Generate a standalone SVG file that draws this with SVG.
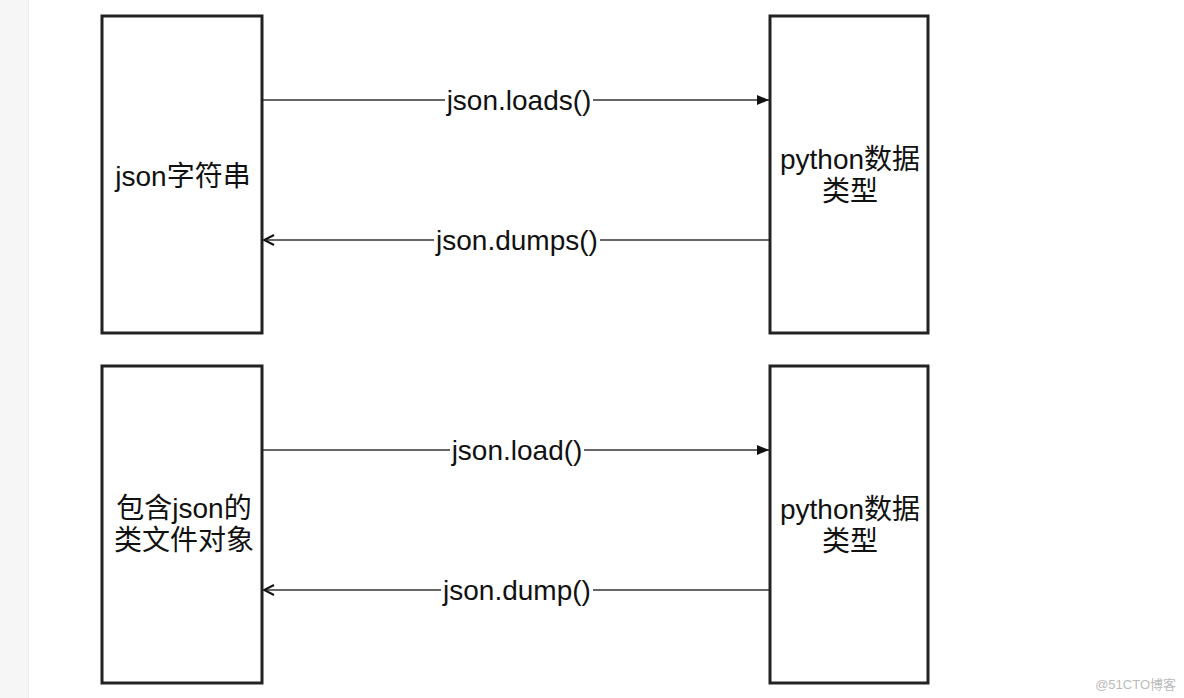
<svg xmlns="http://www.w3.org/2000/svg" width="1184" height="698" viewBox="0 0 1184 698">
<defs>
<style>
.box{fill:#fff;stroke:#222;stroke-width:3}
.edge{stroke:#666;stroke-width:2;fill:none}
.t{font-family:"Liberation Sans","Noto Sans CJK SC",sans-serif;font-size:28px;fill:#111;text-anchor:middle}
.lbl{font-family:"Liberation Sans","Noto Sans CJK SC",sans-serif;font-size:28px;fill:#111;text-anchor:middle}
.bg{fill:#fff}
</style>
<marker id="filled" viewBox="0 0 12 10" refX="12" refY="5" markerWidth="12" markerHeight="10" markerUnits="userSpaceOnUse" orient="auto">
<path d="M0,0 L12,5 L0,10 Z" fill="#111"/>
</marker>
<marker id="open" viewBox="0 0 12 12" refX="11" refY="6" markerWidth="12" markerHeight="12" markerUnits="userSpaceOnUse" orient="auto">
<path d="M1,1 L11,6 L1,11" fill="none" stroke="#111" stroke-width="2"/>
</marker>
</defs>
<rect x="0" y="0" width="1184" height="698" fill="#fff"/>
<rect x="0" y="0" width="28" height="698" fill="#f6f6f6"/>
<line x1="28.5" y1="0" x2="28.5" y2="698" stroke="#ececec" stroke-width="1"/>

<g id="connectors">
<line class="edge" x1="263" y1="100" x2="769" y2="100" marker-end="url(#filled)"/>
<line class="edge" x1="769" y1="240" x2="264" y2="240" marker-end="url(#open)"/>
<line class="edge" x1="263" y1="450" x2="769" y2="450" marker-end="url(#filled)"/>
<line class="edge" x1="769" y1="590" x2="264" y2="590" marker-end="url(#open)"/>
<rect class="bg" x="445" y="86" width="148" height="30"/>
<text class="lbl" x="519" y="110">json.loads()</text>
<rect class="bg" x="434" y="226" width="166" height="30"/>
<text class="lbl" x="517" y="250">json.dumps()</text>
<rect class="bg" x="450" y="436" width="134" height="30"/>
<text class="lbl" x="517" y="460">json.load()</text>
<rect class="bg" x="441" y="576" width="152" height="30"/>
<text class="lbl" x="517" y="600">json.dump()</text>
</g>

<g id="node-json-str">
<rect class="box" x="102" y="16" width="160" height="317"/>
<text class="t" x="183" y="186">json字符串</text>
</g>
<g id="node-py1">
<rect class="box" x="770" y="16" width="158" height="317"/>
<text class="t" x="850" y="169">python数据</text>
<text class="t" x="850" y="201">类型</text>
</g>
<g id="node-filelike">
<rect class="box" x="102" y="366" width="160" height="317"/>
<text class="t" x="184" y="518">包含json的</text>
<text class="t" x="184" y="550">类文件对象</text>
</g>
<g id="node-py2">
<rect class="box" x="770" y="366" width="158" height="317"/>
<text class="t" x="850" y="519">python数据</text>
<text class="t" x="850" y="551">类型</text>
</g>
<text x="1176" y="689" font-family="Liberation Sans,Noto Sans CJK SC,sans-serif" font-size="13" fill="#bbb" text-anchor="end">@51CTO博客</text>
</svg>
